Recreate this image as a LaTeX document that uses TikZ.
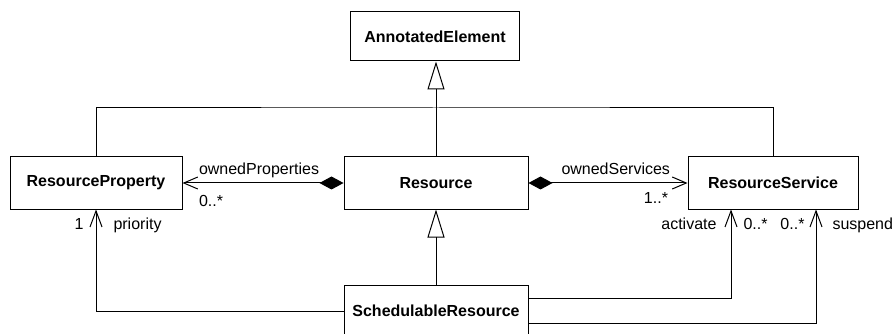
\documentclass[tikz,border=0pt]{standalone}
\usepackage{fontspec}
\setmainfont{Liberation Sans}
\usetikzlibrary{calc,arrows.meta}

\begin{document}
\begin{tikzpicture}[x=1pt,y=-1pt,line width=1pt,
	cls/.style={draw,font=\fontsize{16}{19}\selectfont\bfseries,minimum height=52pt,inner sep=0pt},
	lbl/.style={font=\fontsize{16}{19}\selectfont,inner sep=0pt},
	gen/.style={-{Triangle[open,length=28pt,width=17pt]}},
	comp/.style={{Diamond[length=24pt,width=13pt]}-{Straight Barb[length=14pt,width=12pt]}},
	assoc/.style={-{Straight Barb[length=16pt,width=12pt]}}]
\useasboundingbox (0,0) rectangle (892,334);
\clip (0,0) rectangle (892,334);

\node[cls,minimum width=169pt,minimum height=49pt] (ae) at (435,36.5) {AnnotatedElement};
\node[cls,minimum width=172pt] (rp) at (96,183) {ResourceProperty};
\node[cls,minimum width=184pt] (res) at (436,183) {Resource};
\node[cls,minimum width=170pt] (rs) at (773,183) {ResourceService};
\node[cls,minimum width=184pt] (sr) at (436,311) {SchedulableResource};

\coordinate (bar) at (436,108);
\draw (rp.north) |- (bar) -| (rs.north);
\draw[gen] (res.north) -- (res.north |- ae.south);
\draw[gen] (sr.north) -- (res.south);

\draw[comp] (res.west) -- (rp.east);
\node[lbl,anchor=base west] (opn) at ($(rp.east)+(16,-8)$) {ownedProperties};
\node[lbl,anchor=base west] (opm) at ($(rp.east)+(16,23)$) {0..*};
\draw[comp] (res.east) -- (rs.west);
\node[lbl,anchor=base east] (osn) at ($(rs.west)+(-17,-8)$) {ownedServices};
\node[lbl,anchor=base east] (osm) at ($(rs.west)+(-19,21)$) {1..*};

\coordinate (act) at ($(rs.south)+(-42,0)$);
\coordinate (sus) at ($(rs.south)+(43,0)$);
\draw[assoc] (sr.west) -| (rp.south);
\draw[assoc] ($(sr.east)+(0,-13)$) -| (act);
\draw[assoc] ($(sr.east)+(0,12)$) -| (sus);

\node[lbl,anchor=base east] (prm) at ($(rp.south)+(-12,20)$) {1};
\node[lbl,anchor=base west] (prn) at ($(rp.south)+(17,20)$) {priority};
\node[lbl,anchor=base east] (acn) at ($(act)+(-14,20)$) {activate};
\node[lbl,anchor=base west] (acm) at ($(act)+(12,20)$) {0..*};
\node[lbl,anchor=base east] (sum) at ($(sus)+(-11,20)$) {0..*};
\node[lbl,anchor=base west] (sun) at ($(sus)+(16,20)$) {suspend};

\end{tikzpicture}
\end{document}
